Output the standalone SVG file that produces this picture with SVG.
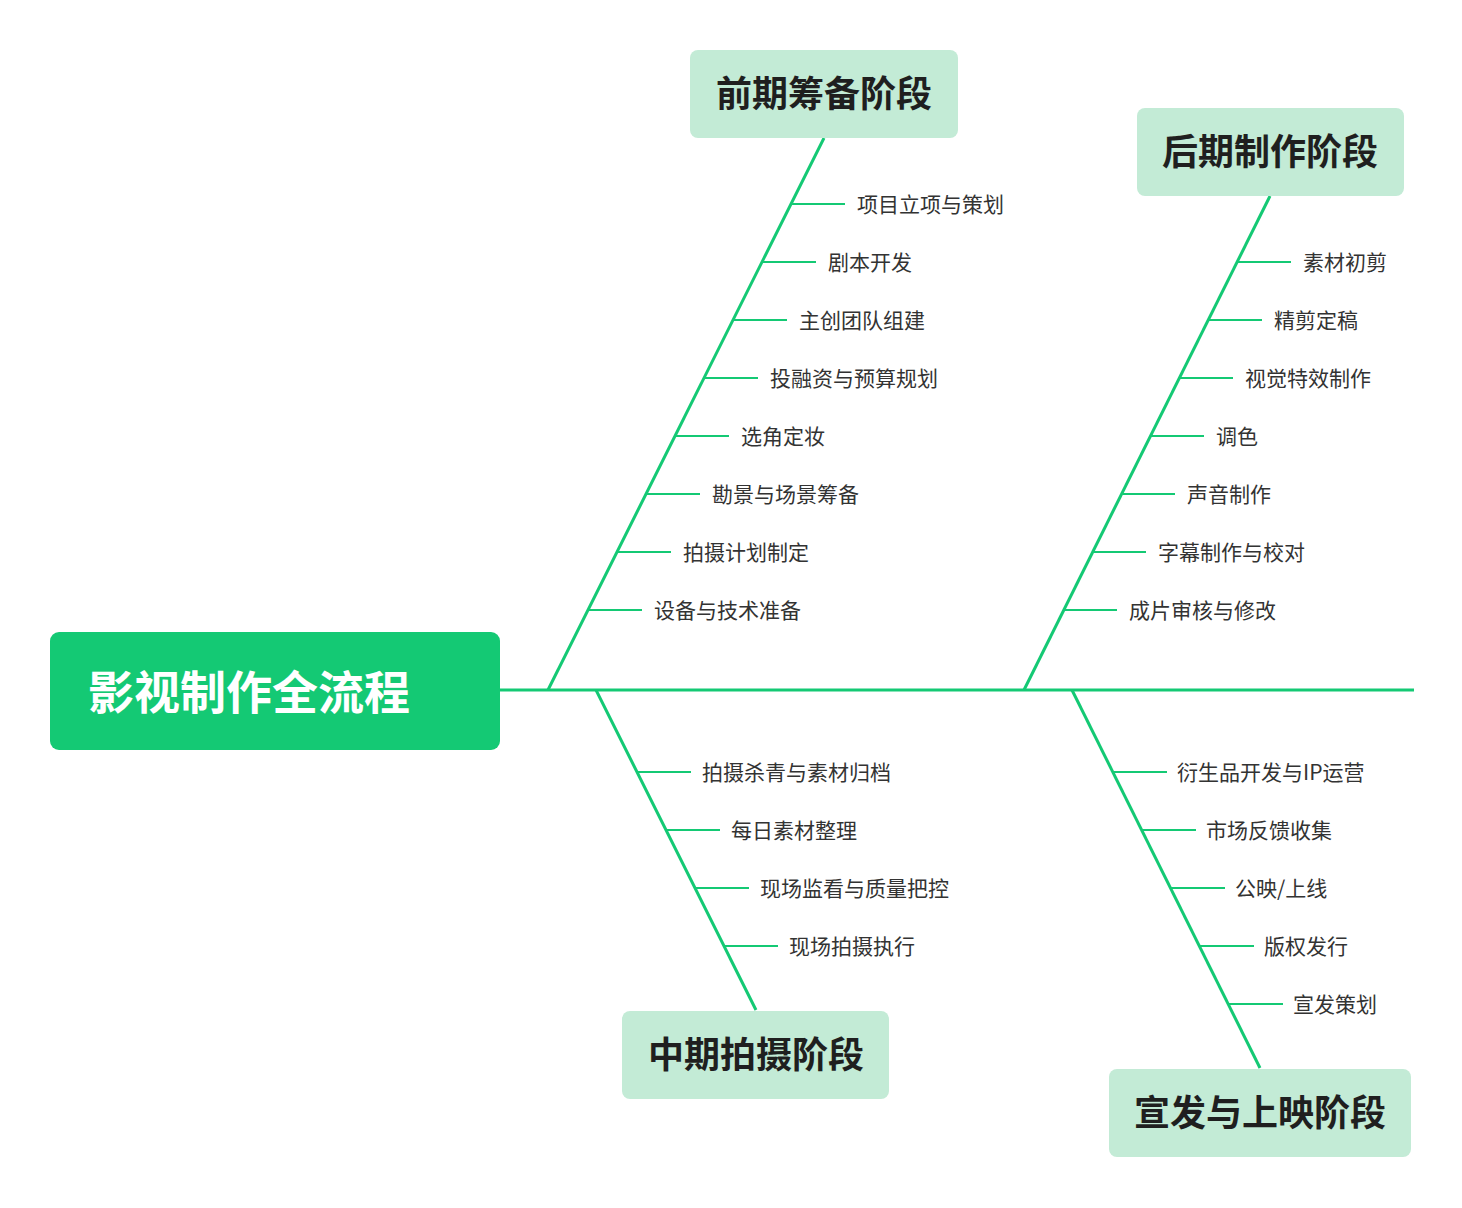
<svg xmlns="http://www.w3.org/2000/svg" width="1462" height="1208" viewBox="0 0 1462 1208">
<style>
.ln{stroke:#14C974;stroke-width:3;fill:none}
.sl{stroke:#14C974;stroke-width:2;fill:none}
.st{fill:#C3EBD6}
.stt{font-family:"Noto Sans CJK SC",sans-serif;font-size:36px;font-weight:bold;fill:#1f1f1f;text-anchor:middle}
.it{font-family:"Noto Sans CJK SC",sans-serif;font-size:21px;fill:#333}
</style>
<rect width="1462" height="1208" fill="#fff"/>
<g id="connectors">
<line class="ln" x1="498" y1="690" x2="1414" y2="690"/>
<line class="ln" x1="548" y1="690" x2="824" y2="138"/>
<line class="ln" x1="1024" y1="690" x2="1270" y2="196"/>
<line class="ln" x1="596" y1="690" x2="756" y2="1010"/>
<line class="ln" x1="1072" y1="690" x2="1260" y2="1068"/>
<path class="sl" d="M791 204h54M762 262h54M733 320h54M704 378h54M675 436h54M646 494h54M617 552h54M588 610h54"/>
<path class="sl" d="M1237 262h54M1208 320h54M1179 378h54M1150 436h54M1121 494h54M1092 552h54M1063 610h54"/>
<path class="sl" d="M637 772h54M666 830h54M695 888h54M724 946h54"/>
<path class="sl" d="M1113 772h54M1142 830h54M1171 888h54M1200 946h54M1229 1004h54"/>
</g>
<g id="root"><rect x="50" y="632" width="450" height="118" rx="9" fill="#14C974"/>
<text x="88" y="709" font-family="Noto Sans CJK SC,sans-serif" font-size="46" font-weight="bold" fill="#fff">影视制作全流程</text></g>
<g id="pre"><rect class="st" x="690" y="50" width="268" height="88" rx="8"/><text class="stt" x="824" y="107">前期筹备阶段</text></g>
<g id="post"><rect class="st" x="1137" y="108" width="267" height="88" rx="8"/><text class="stt" x="1270" y="165">后期制作阶段</text></g>
<g id="mid"><rect class="st" x="622" y="1011" width="267" height="88" rx="8"/><text class="stt" x="756" y="1068">中期拍摄阶段</text></g>
<g id="pub"><rect class="st" x="1109" y="1069" width="302" height="88" rx="8"/><text class="stt" x="1260" y="1126">宣发与上映阶段</text></g>
<g id="items">
<text class="it" x="857" y="212">项目立项与策划</text>
<text class="it" x="828" y="270">剧本开发</text>
<text class="it" x="799" y="328">主创团队组建</text>
<text class="it" x="770" y="386">投融资与预算规划</text>
<text class="it" x="741" y="444">选角定妆</text>
<text class="it" x="712" y="502">勘景与场景筹备</text>
<text class="it" x="683" y="560">拍摄计划制定</text>
<text class="it" x="654" y="618">设备与技术准备</text>
<text class="it" x="1303" y="270">素材初剪</text>
<text class="it" x="1274" y="328">精剪定稿</text>
<text class="it" x="1245" y="386">视觉特效制作</text>
<text class="it" x="1216" y="444">调色</text>
<text class="it" x="1187" y="502">声音制作</text>
<text class="it" x="1158" y="560">字幕制作与校对</text>
<text class="it" x="1129" y="618">成片审核与修改</text>
<text class="it" x="702" y="780">拍摄杀青与素材归档</text>
<text class="it" x="731" y="838">每日素材整理</text>
<text class="it" x="760" y="896">现场监看与质量把控</text>
<text class="it" x="789" y="954">现场拍摄执行</text>
<text class="it" x="1177" y="780">衍生品开发与IP运营</text>
<text class="it" x="1206" y="838">市场反馈收集</text>
<text class="it" x="1235" y="896">公映/上线</text>
<text class="it" x="1264" y="954">版权发行</text>
<text class="it" x="1293" y="1012">宣发策划</text>
</g>
</svg>
